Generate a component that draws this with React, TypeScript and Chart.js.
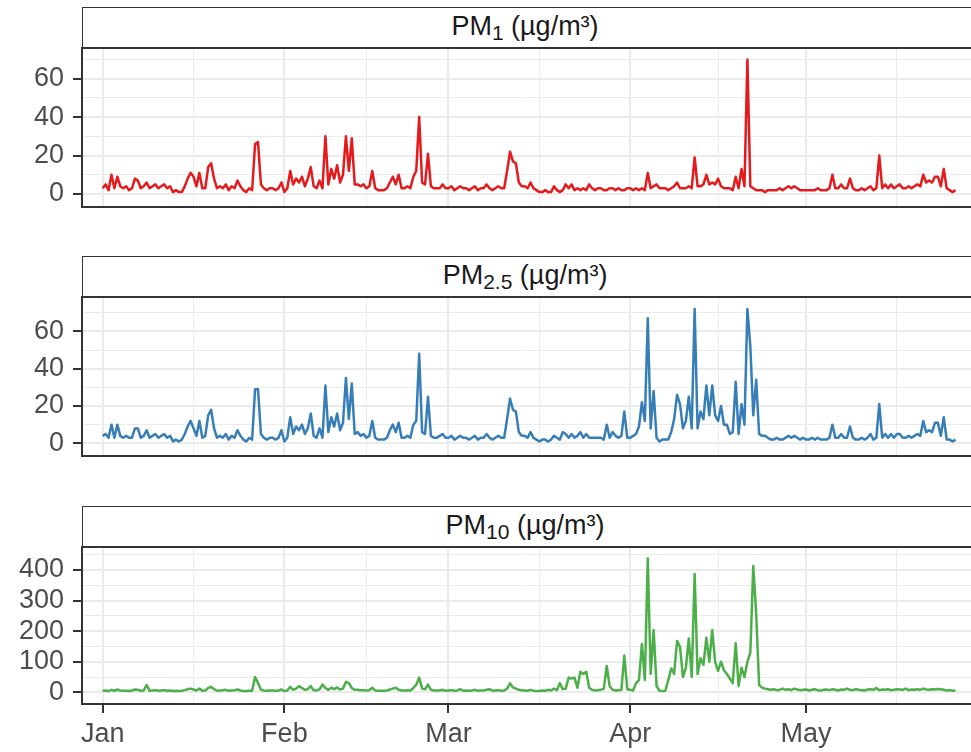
import React, { useEffect, useRef } from "react";
import { Chart, registerables } from "chart.js";

Chart.register(...registerables);

// ---- data -------------------------------------------------------------
// one reading every half day, starting 1 Jan (day 0)
const STEP_DAYS = 0.5;

const monthStarts = [0, 31, 59, 90, 120];
const monthLabels = ["Jan", "Feb", "Mar", "Apr", "May"];
const monthMinor = [15.5, 45, 74.5, 105, 135.5];

const smallBreaks = [0, 20, 40, 60];
const smallMinor = [10, 30, 50, 70];
const pm10Breaks = [0, 100, 200, 300, 400];
const pm10Minor = [50, 150, 250, 350, 450];

const pm1Values = [
  3, 5, 2, 10, 3, 9, 4, 3, 4, 2, 3, 8, 7, 3, 4, 6, 3, 4, 5, 3,
  4, 5, 3, 4, 1, 2, 1, 1, 4, 8, 11, 9, 4, 11, 3, 3, 14, 16, 8, 3,
  4, 3, 5, 2, 4, 3, 7, 4, 2, 1, 3, 2, 26, 27, 5, 3, 2, 3, 3, 2,
  3, 6, 1, 3, 12, 5, 8, 6, 9, 4, 8, 14, 4, 3, 7, 3, 30, 5, 13, 8,
  15, 6, 10, 30, 12, 29, 5, 5, 4, 5, 3, 4, 12, 3, 2, 2, 2, 3, 6, 9,
  5, 10, 3, 3, 4, 3, 9, 12, 40, 6, 5, 21, 4, 3, 3, 3, 5, 3, 3, 4,
  2, 3, 4, 3, 3, 2, 3, 4, 2, 3, 3, 5, 3, 2, 3, 4, 3, 3, 12, 22,
  17, 16, 6, 4, 4, 3, 6, 3, 2, 1, 1, 2, 1, 1, 4, 2, 1, 2, 5, 3,
  5, 2, 3, 2, 3, 2, 5, 3, 2, 3, 3, 2, 2, 3, 3, 2, 3, 2, 2, 3,
  3, 2, 3, 2, 3, 2, 11, 3, 4, 5, 3, 3, 3, 2, 3, 4, 6, 3, 3, 3,
  4, 3, 19, 4, 4, 5, 10, 5, 6, 5, 8, 4, 3, 3, 3, 2, 9, 3, 13, 4,
  70, 4, 3, 2, 2, 2, 1, 2, 2, 2, 2, 3, 2, 3, 4, 3, 4, 3, 2, 2,
  2, 2, 2, 2, 3, 2, 2, 2, 3, 10, 3, 3, 5, 3, 3, 8, 3, 2, 2, 3,
  2, 3, 4, 2, 3, 20, 3, 5, 3, 5, 3, 4, 5, 3, 3, 4, 3, 4, 5, 4,
  10, 6, 7, 6, 9, 9, 4, 13, 3, 2, 1, 2,
];

const pm25Values = [
  4, 5, 3, 10, 3, 10, 4, 3, 4, 3, 3, 8, 8, 3, 4, 7, 3, 4, 5, 3,
  4, 5, 3, 4, 1, 2, 1, 2, 5, 9, 12, 8, 4, 12, 3, 4, 15, 18, 8, 3,
  4, 3, 5, 2, 4, 3, 7, 4, 2, 1, 3, 2, 29, 29, 5, 3, 2, 3, 3, 2,
  3, 7, 1, 3, 14, 5, 9, 7, 10, 5, 8, 16, 4, 3, 8, 3, 31, 6, 14, 9,
  16, 7, 11, 35, 13, 32, 5, 6, 4, 5, 3, 4, 12, 3, 2, 2, 2, 3, 7, 10,
  6, 11, 3, 3, 4, 3, 10, 12, 48, 6, 5, 25, 4, 3, 3, 4, 5, 3, 3, 4,
  2, 3, 4, 3, 3, 2, 3, 4, 2, 3, 3, 5, 3, 2, 3, 4, 3, 3, 13, 24,
  18, 17, 6, 4, 4, 3, 6, 3, 2, 1, 2, 2, 1, 2, 4, 3, 2, 6, 5, 3,
  5, 3, 4, 6, 3, 5, 3, 3, 3, 3, 3, 2, 10, 3, 6, 4, 3, 4, 17, 3,
  3, 4, 5, 9, 22, 12, 67, 8, 28, 3, 1, 2, 2, 2, 6, 13, 26, 21, 8, 12,
  25, 8, 72, 8, 17, 13, 31, 15, 31, 15, 12, 20, 10, 10, 5, 6, 33, 5, 21, 10,
  72, 52, 15, 34, 5, 4, 4, 3, 2, 2, 3, 2, 2, 3, 4, 3, 4, 3, 2, 3,
  2, 2, 3, 2, 3, 2, 2, 2, 3, 10, 3, 3, 5, 3, 3, 9, 3, 2, 2, 3,
  2, 3, 5, 2, 3, 21, 3, 5, 3, 5, 3, 5, 5, 3, 3, 4, 3, 4, 5, 4,
  12, 6, 7, 6, 11, 11, 4, 14, 2, 2, 1, 2,
];

const pm10Values = [
  5, 6, 4, 8, 5, 9, 6, 5, 5, 4, 6, 9, 8, 5, 6, 24, 5, 6, 7, 5,
  6, 7, 5, 6, 4, 5, 4, 5, 7, 10, 12, 9, 6, 12, 5, 6, 14, 18, 10, 5,
  6, 7, 8, 5, 6, 7, 9, 6, 4, 4, 5, 5, 50, 30, 8, 6, 5, 6, 6, 5,
  6, 9, 4, 6, 18, 8, 12, 20, 14, 8, 10, 20, 7, 6, 10, 25, 14, 8, 15, 10,
  16, 9, 12, 34, 30, 14, 8, 8, 7, 7, 6, 7, 15, 6, 5, 5, 5, 6, 9, 12,
  15, 8, 6, 6, 7, 6, 14, 25, 48, 12, 10, 25, 8, 6, 6, 6, 8, 5, 6, 7,
  5, 6, 10, 5, 6, 5, 6, 8, 5, 6, 6, 8, 10, 5, 6, 7, 5, 6, 12, 29,
  16, 12, 8, 7, 6, 5, 8, 5, 4, 4, 6, 5, 8, 6, 12, 7, 30, 10, 12, 48,
  45, 48, 15, 67, 60, 67, 15, 8, 6, 7, 8, 12, 86, 20, 8, 6, 7, 8, 120, 10,
  8, 6, 30, 40, 158, 40, 438, 60, 204, 20, 5, 4, 5, 40, 78, 60, 168, 149, 50, 80,
  176, 50, 387, 60, 111, 90, 178, 100, 204, 98, 70, 100, 72, 60, 45, 30, 160, 20, 80, 50,
  100, 130, 413, 256, 24, 15, 12, 10, 8, 10, 7, 8, 12, 8, 10, 7, 12, 9, 7, 8,
  9, 6, 8, 10, 7, 6, 8, 9, 7, 10, 8, 6, 9, 8, 12, 8, 7, 10, 8, 7,
  6, 9, 10, 8, 14, 7, 9, 8, 10, 7, 8, 10, 9, 8, 12, 7, 9, 8, 10, 8,
  12, 9, 8, 10, 9, 11, 10, 8, 6, 7, 5, 6,
];

// ---- styling ------------------------------------------------------------
const FONT = "'Liberation Sans', Arial, Helvetica, sans-serif";
const X_MIN = -3.53;
const X_MAX = 148.15;

const panelBorder = {
  id: "panelBorder",
  afterDraw(chart: any) {
    const { ctx, chartArea: a } = chart;
    ctx.save();
    ctx.strokeStyle = "#333333";
    ctx.lineWidth = 2;
    ctx.strokeRect(a.left, a.top, a.right - a.left + 20, a.bottom - a.top);
    ctx.restore();
  },
};

type PanelProps = {
  values: number[];
  color: string;
  yMin: number;
  yMax: number;
  breaks: number[];
  minor: number[];
  showX: boolean;
  plotTop: number;
  plotBottom: number;
  sub: string;
};

function Panel(p: PanelProps) {
  const ref = useRef<HTMLCanvasElement>(null);
  const canvasTop = p.plotTop - 2;
  const canvasH = p.showX ? 752 - canvasTop : p.plotBottom - canvasTop + 2;

  useEffect(() => {
    const xTicks = [...monthStarts, ...monthMinor].sort((a, b) => a - b);
    const yTicks = [...p.breaks, ...p.minor].sort((a, b) => a - b);
    const chart = new Chart(ref.current as HTMLCanvasElement, {
      type: "line",
      data: {
        datasets: [
          {
            data: p.values.map((v, i) => ({ x: i * STEP_DAYS, y: v })),
            borderColor: p.color,
            borderWidth: 2.5,
            pointRadius: 0,
            tension: 0,
            fill: false,
            borderJoinStyle: "round",
          },
        ],
      },
      options: {
        animation: false,
        responsive: false,
        devicePixelRatio: 1,
        layout: { padding: { top: 2, bottom: p.showX ? 0 : 2, left: 0, right: 0 } },
        plugins: { legend: { display: false }, tooltip: { enabled: false } },
        scales: {
          x: {
            type: "linear",
            min: X_MIN,
            max: X_MAX,
            afterBuildTicks: (s: any) => {
              s.ticks = xTicks.map((v) => ({ value: v }));
            },
            afterFit: (s: any) => {
              s.height = p.showX ? 48 : 0;
              s.paddingLeft = 0;
              s.paddingRight = 0;
              s.paddingTop = 0;
              s.paddingBottom = 0;
            },
            border: { display: false },
            grid: {
              color: "#EBEBEB",
              lineWidth: (c: any) => (monthStarts.includes(c.tick?.value) ? 2 : 1),
              drawTicks: p.showX,
              tickLength: 9,
              tickWidth: 2,
              tickColor: (c: any) =>
                monthStarts.includes(c.tick?.value) ? "#333333" : "rgba(0,0,0,0)",
            },
            ticks: {
              display: p.showX,
              autoSkip: false,
              maxRotation: 0,
              padding: 5,
              color: "#4D4D4D",
              font: { family: FONT, size: 27 },
              callback: (v: any) => {
                const i = monthStarts.indexOf(Number(v));
                return i >= 0 ? monthLabels[i] : "";
              },
            },
          },
          y: {
            type: "linear",
            min: p.yMin,
            max: p.yMax,
            afterBuildTicks: (s: any) => {
              s.ticks = yTicks.map((v) => ({ value: v }));
            },
            afterFit: (s: any) => {
              s.width = 82;
              s.paddingTop = 0;
              s.paddingBottom = 0;
              s.paddingLeft = 0;
              s.paddingRight = 0;
            },
            border: { display: false },
            grid: {
              color: "#EBEBEB",
              lineWidth: (c: any) => (p.breaks.includes(c.tick?.value) ? 2 : 1),
              drawTicks: true,
              tickLength: 9,
              tickWidth: 2,
              tickColor: (c: any) =>
                p.breaks.includes(c.tick?.value) ? "#333333" : "rgba(0,0,0,0)",
            },
            ticks: {
              autoSkip: false,
              padding: 9,
              color: "#4D4D4D",
              font: { family: FONT, size: 27 },
              callback: (v: any) => (p.breaks.includes(Number(v)) ? String(v) : ""),
            },
          },
        },
      },
      plugins: [panelBorder],
    } as any);
    return () => chart.destroy();
  }, []);

  const stripTop = p.plotTop - 41;
  return (
    <>
      <div
        style={{
          position: "absolute",
          left: 82,
          top: stripTop,
          width: 900,
          height: 41,
          boxSizing: "border-box",
          borderTop: "1.5px solid #333333",
          borderLeft: "1.5px solid #333333",
          background: "#ffffff",
        }}
      >
        <div
          style={{
            position: "absolute",
            left: 0,
            top: 5,
            width: 884,
            textAlign: "center",
            fontFamily: FONT,
            fontSize: 27,
            lineHeight: "27px",
            color: "#1A1A1A",
            whiteSpace: "nowrap",
          }}
        >
          PM<span style={{ fontSize: 21, verticalAlign: -5 }}>{p.sub}</span> (µg/m³)
        </div>
      </div>
      <canvas
        ref={ref}
        width={971}
        height={canvasH}
        style={{ position: "absolute", left: 0, top: canvasTop, width: 971, height: canvasH }}
      />
    </>
  );
}

export default function App() {
  return (
    <div
      style={{
        position: "fixed",
        left: 0,
        top: 0,
        width: 971,
        height: 752,
        overflow: "hidden",
        background: "#ffffff",
      }}
    >
      <Panel
        values={pm1Values}
        color="#E41A1C"
        yMin={-6.76}
        yMax={75.96}
        breaks={smallBreaks}
        minor={smallMinor}
        showX={false}
        plotTop={48}
        plotBottom={207}
        sub="1"
      />
      <Panel
        values={pm25Values}
        color="#377EB8"
        yMin={-6.8}
        yMax={78.4}
        breaks={smallBreaks}
        minor={smallMinor}
        showX={false}
        plotTop={297}
        plotBottom={456}
        sub="2.5"
      />
      <Panel
        values={pm10Values}
        color="#4DAF4A"
        yMin={-38.3}
        yMax={475.2}
        breaks={pm10Breaks}
        minor={pm10Minor}
        showX={true}
        plotTop={547}
        plotBottom={704}
        sub="10"
      />
    </div>
  );
}
